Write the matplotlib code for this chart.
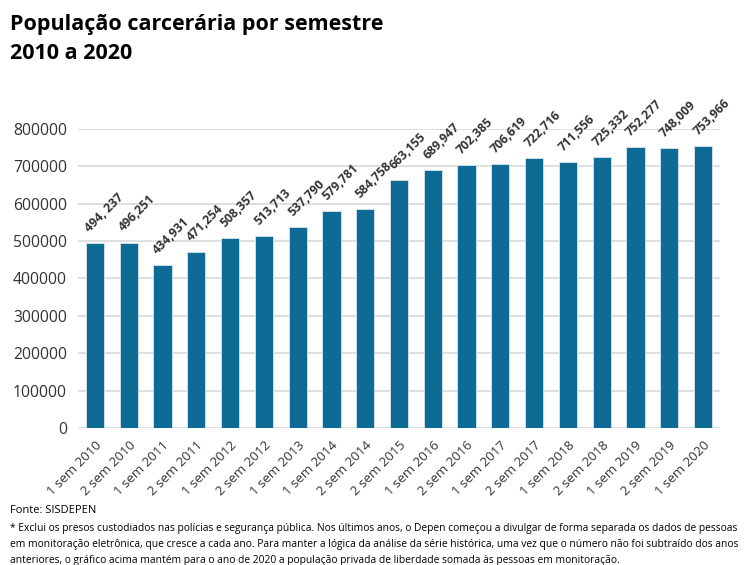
import numpy as np
import matplotlib.pyplot as plt

# Dados: população carcerária por semestre
semestres = ['1 sem 2010', '2 sem 2010', '1 sem 2011', '2 sem 2011', '1 sem 2012',
             '2 sem 2012', '1 sem 2013', '1 sem 2014', '2 sem 2014', '2 sem 2015',
             '1 sem 2016', '2 sem 2016', '1 sem 2017', '2 sem 2017', '1 sem 2018',
             '2 sem 2018', '1 sem 2019', '2 sem 2019', '1 sem 2020']
populacao = [494237, 496251, 434931, 471254, 508357, 513713, 537790, 579781, 584758,
             663155, 689947, 702385, 706619, 722716, 711556, 725332, 752277, 748009,
             753966]
rotulos = ['494, 237', '496,251', '434,931', '471,254', '508,357', '513,713', '537,790',
           '579,781', '584,758', '663,155', '689,947', '702,385', '706,619', '722,716',
           '711,556', '725,332', '752,277', '748,009', '753,966']
yticks = np.arange(0, 800001, 100000)

plt.rcParams['font.family'] = ['Open Sans', 'DejaVu Sans']

fig = plt.figure(figsize=(7.5, 5.65), dpi=100)
ax = fig.add_axes([0.104, 0.2425, 0.856, 0.5292])

x = np.arange(len(semestres))
ax.bar(x, populacao, width=0.54, color='#0e6b96', edgecolor='#d6e6ee', linewidth=0.6, zorder=3)

# Rótulos de valor inclinados
for xi, v, r in zip(x, populacao, rotulos):
    ax.annotate(r, (xi, v), xytext=(-2, 6), textcoords='offset points',
                rotation=45, rotation_mode='anchor', ha='left', va='bottom',
                fontsize=8.8, fontweight='bold', color='#333333', annotation_clip=False)

ax.set_xlim(-0.5, len(semestres) - 0.5)
ax.set_ylim(0, 800000)
ax.set_yticks(yticks)
ax.set_yticklabels([str(t) for t in yticks], fontsize=11.3, color='#333333')
ax.set_xticks(x)
ax.set_xticklabels(semestres, rotation=45, ha='right', rotation_mode='anchor',
                   fontsize=9.5, color='#333333')
ax.tick_params(length=0, axis='y', pad=8)
ax.tick_params(length=0, axis='x', pad=8)
ax.grid(axis='y', color='#d9d9d9', linewidth=1.2, zorder=0)
ax.set_axisbelow(True)
for s in ax.spines.values():
    s.set_visible(False)

fig.text(0.013, 0.956, 'População carcerária por semestre', fontsize=15.5,
         fontweight='bold', color='black', va='center')
fig.text(0.013, 0.906, '2010 a 2020', fontsize=15.5, fontweight='bold',
         color='black', va='center')

fig.text(0.013, 0.097, 'Fonte: SISDEPEN', fontsize=8, color='black', va='center')
nota = ('* Exclui os presos custodiados nas polícias e segurança pública. Nos últimos anos, o Depen começou a divulgar de forma separada os dados de pessoas\n'
        'em monitoração eletrônica, que cresce a cada ano. Para manter a lógica da análise da série histórica, uma vez que o número não foi subtraído dos anos\n'
        'anteriores, o gráfico acima mantém para o ano de 2020 a população privada de liberdade somada às pessoas em monitoração.')
fig.text(0.013, 0.036, nota, fontsize=7.35, color='black', va='center', linespacing=1.6)

fig.savefig('out.png', dpi=100)
